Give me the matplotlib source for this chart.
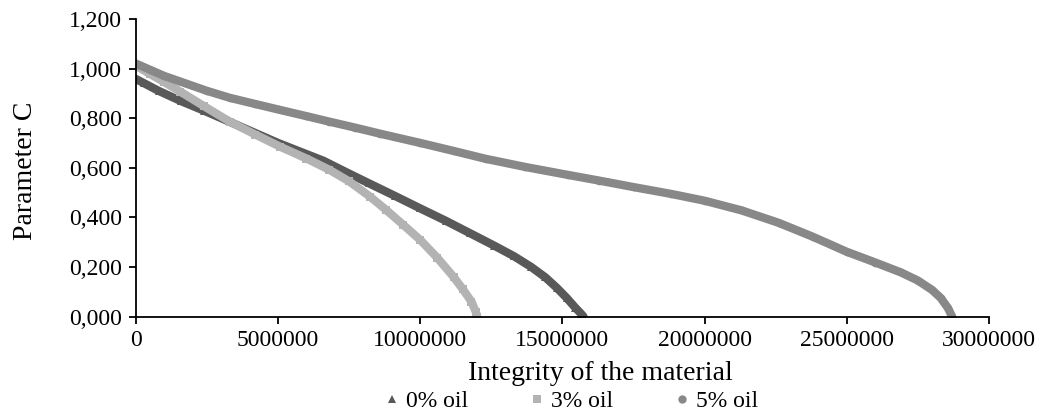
"""Parameter C vs integrity of the material for three oil contents."""

import matplotlib
matplotlib.use('Agg')  # Non-interactive backend
import matplotlib.pyplot as plt
from matplotlib.lines import Line2D
from matplotlib.ticker import FuncFormatter, MultipleLocator

plt.rcParams['font.family'] = ['Liberation Serif', 'DejaVu Serif']

# Values (x in cycles, y = parameter C)
oil0_x = [0, 300000, 800000, 1600000, 2400000, 3300000, 4200000, 5000000,
          5800000, 6600000, 7400000, 8200000, 9100000, 10000000, 10900000,
          11750000, 12600000, 13300000, 13900000, 14400000, 14800000,
          15150000, 15450000, 15650000, 15740000]
oil0_y = [0.958, 0.940, 0.910, 0.868, 0.830, 0.785, 0.740, 0.700,
          0.664, 0.628, 0.582, 0.537, 0.487, 0.436, 0.386,
          0.336, 0.286, 0.243, 0.200, 0.158, 0.116,
          0.075, 0.036, 0.012, 0.000]

oil3_x = [0, 500000, 1000000, 1560000, 2400000, 3300000, 4200000, 5070000,
          6000000, 6800000, 7500000, 8240000, 8800000, 9400000, 10000000,
          10600000, 11170000, 11500000, 11800000, 11950000, 12000000]
oil3_y = [1.012, 0.978, 0.945, 0.907, 0.848, 0.786, 0.734, 0.685,
          0.637, 0.592, 0.545, 0.483, 0.430, 0.370, 0.309,
          0.237, 0.160, 0.110, 0.060, 0.020, 0.000]

oil5_x = [0, 500000, 1000000, 1500000, 2500000, 3300000, 4200000, 5000000,
          6000000, 6800000, 7700000, 8600000, 10000000, 11200000, 12300000,
          13700000, 15200000, 16300000, 17500000, 18800000, 20000000,
          21300000, 22600000, 23800000, 25000000, 26000000, 26900000,
          27500000, 28000000, 28300000, 28550000, 28700000]
oil5_y = [1.020, 0.995, 0.970, 0.950, 0.910, 0.882, 0.857, 0.835,
          0.808, 0.786, 0.762, 0.737, 0.700, 0.667, 0.636,
          0.603, 0.571, 0.548, 0.522, 0.495, 0.467,
          0.428, 0.378, 0.322, 0.261, 0.218, 0.178,
          0.145, 0.107, 0.075, 0.035, 0.000]

series = [
    ('0% oil', oil0_x, oil0_y, '#595959', '^'),
    ('3% oil', oil3_x, oil3_y, '#b3b3b3', 's'),
    ('5% oil', oil5_x, oil5_y, '#888888', 'o'),
]

fig = plt.figure(figsize=(10.45, 4.16), dpi=100)
ax = fig.add_axes([0.13, 0.239, 0.8165, 0.7155])

for label, xs, ys, color, marker in series:
    ax.plot(xs, ys, color=color, linewidth=6, solid_capstyle='round',
            solid_joinstyle='round', marker=marker, markersize=5.5,
            markeredgewidth=0)

ax.set_xlim(0, 30000000)
ax.set_ylim(0, 1.2)
ax.xaxis.set_major_locator(MultipleLocator(5000000))
ax.yaxis.set_major_locator(MultipleLocator(0.2))
ax.xaxis.set_major_formatter(FuncFormatter(lambda v, p: f'{int(round(v))}'))
ax.yaxis.set_major_formatter(
    FuncFormatter(lambda v, p: f'{v:.3f}'.replace('.', ',')))

for side in ('top', 'right'):
    ax.spines[side].set_visible(False)
for side in ('left', 'bottom'):
    ax.spines[side].set_linewidth(1.3)
ax.tick_params(direction='out', length=5, width=1.3, labelsize=17,
               pad=5, colors='black')

ax.set_xlabel('Integrity of the material', fontsize=20)
ax.set_ylabel('Parameter C', fontsize=20)
ax.xaxis.set_label_coords(0.544, -0.15)
ax.yaxis.set_label_coords(-0.115, 0.49)

handles = [Line2D([], [], linestyle='none', marker=m, color=c, markersize=6,
                  markeredgewidth=0, label=l)
           for l, _, _, c, m in series]
fig.legend(handles=handles, loc='center', bbox_to_anchor=(0.547, 0.036),
           ncol=3, frameon=False, fontsize=17, handlelength=0.6,
           handletextpad=0.3, columnspacing=2.6)

plt.savefig('out.png', dpi=100)
plt.close(fig)
